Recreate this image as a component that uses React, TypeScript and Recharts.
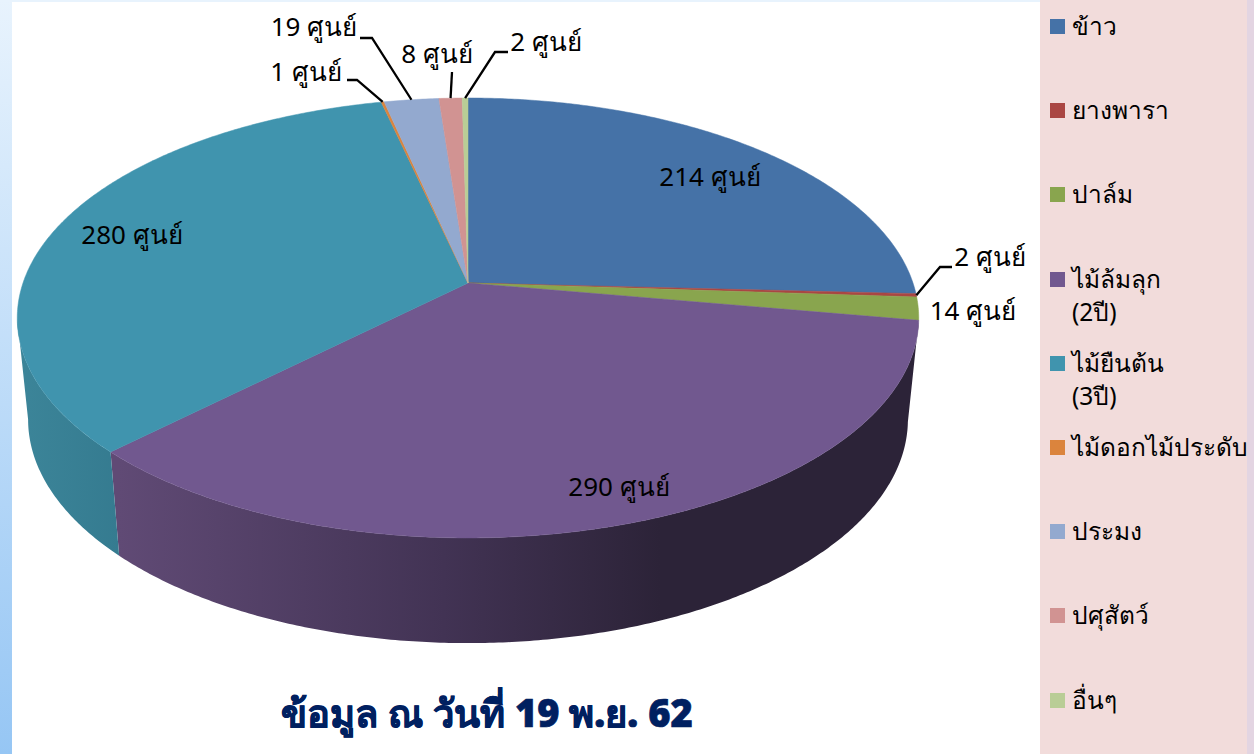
import React from 'react';
import { PieChart, Pie, Legend } from 'recharts';

const CATEGORIES = ['ข้าว', 'ยางพารา', 'ปาล์ม', 'ไม้ล้มลุก (2ปี)', 'ไม้ยืนต้น (3ปี)', 'ไม้ดอกไม้ประดับ', 'ประมง', 'ปศุสัตว์', 'อื่นๆ'];
const CENTERS = [214, 2, 14, 290, 280, 1, 19, 8, 2];
const COLORS = ['#4572A7', '#AA4643', '#89A54E', '#71588F', '#4094AE', '#DB843D', '#93A9CF', '#D19392', '#B9CD96'];
const UNIT = 'ศูนย์';
const TITLE = 'ข้อมูล ณ วันที่ 19 พ.ย. 62';

const tableData = CATEGORIES.map((name, i) => ({ name, value: CENTERS[i], fill: COLORS[i] }));

// perspective of the tilted disc: top face and bottom face of the 3D pie
const TILT = 0.159;
const TOP_FACE = { a: 445, b: 214.4, dy: 0 };
const LOW_FACE = { a: 434.3, b: 217.9, dy: 101 };
const SILHOUETTE = (Math.acos(-TILT) * 180) / Math.PI;

const project = (cx: number, cy: number, theta: number, face: typeof TOP_FACE) => {
  const r = (theta * Math.PI) / 180;
  const u = Math.sin(r);
  const v = -Math.cos(r);
  const d = 1 - TILT * v;
  return [cx + (face.a * u) / d, cy + face.dy + (face.b * v) / d];
};

const arc = (cx: number, cy: number, from: number, to: number, face: typeof TOP_FACE) => {
  const steps = Math.max(2, Math.ceil(Math.abs(to - from) * 2));
  const pts: number[][] = [];
  for (let i = 0; i <= steps; i++) pts.push(project(cx, cy, from + ((to - from) * i) / steps, face));
  return pts;
};

const toPath = (pts: number[][]) => 'M' + pts.map((p) => `${p[0].toFixed(2)},${p[1].toFixed(2)}`).join('L') + 'Z';

const wallFill = (fill: string) => {
  if (fill === COLORS[3]) return 'url(#wallPurple)';
  if (fill === COLORS[4]) return 'url(#wallTeal)';
  return fill;
};

const Slice3D = (props: any) => {
  const { cx, cy, startAngle, endAngle, fill } = props;
  const from = 90 - startAngle;
  const to = 90 - endAngle;
  const wallFrom = Math.max(from, SILHOUETTE);
  const wallTo = Math.min(to, 360 - SILHOUETTE);
  const top = [[cx, cy], ...arc(cx, cy, from, to, TOP_FACE)];
  return (
    <g>
      {wallTo - wallFrom > 1 && (
        <path
          d={toPath([...arc(cx, cy, wallFrom, wallTo, TOP_FACE), ...arc(cx, cy, wallTo, wallFrom, LOW_FACE)])}
          fill={wallFill(fill)}
        />
      )}
      <path d={toPath(top)} fill={fill} stroke={fill} strokeWidth={0.5} />
    </g>
  );
};

// where each value label sits, and the bends of its leader line if it has one
const LABEL_LAYOUT: { x: number; y: number; bends?: number[][] }[] = [
  { x: 710, y: 176 },
  { x: 990, y: 256, bends: [[952, 267], [940, 267]] },
  { x: 973, y: 310 },
  { x: 619, y: 486 },
  { x: 132, y: 234 },
  { x: 306, y: 71, bends: [[347, 80], [357, 80]] },
  { x: 314, y: 26, bends: [[360, 38], [372, 38]] },
  { x: 437, y: 53, bends: [[452, 72]] },
  { x: 546, y: 41, bends: [[508, 52], [495, 52]] },
];

const renderLabel = (props: any) => {
  const { cx, cy, midAngle, index, value } = props;
  const layout = LABEL_LAYOUT[index];
  const end = project(cx, cy, 90 - midAngle, TOP_FACE);
  return (
    <g key={index}>
      {layout.bends && (
        <polyline
          points={[...layout.bends, end].map((p) => p.join(',')).join(' ')}
          fill="none"
          stroke="#000"
          strokeWidth={2.3}
        />
      )}
      <text x={layout.x} y={layout.y} textAnchor="middle" dominantBaseline="central" fontSize={26} fill="#000" fontFamily="Tahoma, 'Noto Sans', sans-serif">
        {`${value} ${UNIT}`}
      </text>
    </g>
  );
};

const renderLegend = ({ payload }: any) => (
  <div style={{ width: 214, height: 754, boxSizing: 'border-box', background: '#F2DCDB', borderRight: '7px solid #E3D5E2', overflow: 'hidden', paddingTop: 9, fontFamily: "Tahoma, 'Noto Sans', sans-serif" }}>
    {(payload || []).map((entry: any) => (
      <div key={entry.value} style={{ height: 84.2, display: 'flex', alignItems: 'flex-start', paddingLeft: 10 }}>
        <span style={{ width: 15, height: 15, marginTop: 10, marginRight: 7, flex: 'none', background: entry.color }} />
        <span style={{ fontSize: 24.5, lineHeight: '33px', color: '#000', whiteSpace: 'nowrap' }}>
          {String(entry.value).split(' ').map((part) => (
            <div key={part}>{part}</div>
          ))}
        </span>
      </div>
    ))}
  </div>
);

export default function App() {
  return (
    <div style={{ position: 'absolute', left: 0, top: 0, width: 1254, height: 754, background: '#fff', overflow: 'hidden' }}>
      <div style={{ position: 'absolute', left: 0, top: 0, width: 12, height: 754, background: 'linear-gradient(#E8F3FD, #96C6F4)' }} />
      <div style={{ position: 'absolute', left: 0, top: 0, width: 1254, height: 2, background: '#E8F3FD' }} />
      <PieChart width={1254} height={754} margin={{ top: 0, right: 0, bottom: 0, left: 0 }}>
        <defs>
          <linearGradient id="wallPurple" gradientUnits="userSpaceOnUse" x1={119} y1={0} x2={660} y2={0}>
            <stop offset="0" stopColor="#604A75" />
            <stop offset="0.6" stopColor="#423354" />
            <stop offset="1" stopColor="#2C2338" />
          </linearGradient>
          <linearGradient id="wallTeal" gradientUnits="userSpaceOnUse" x1={17} y1={0} x2={119} y2={0}>
            <stop offset="0" stopColor="#3C8599" />
            <stop offset="1" stopColor="#357B90" />
          </linearGradient>
        </defs>
        <Legend
          layout="vertical"
          align="right"
          verticalAlign="top"
          content={renderLegend}
          itemSorter={null}
          wrapperStyle={{ left: 1040, top: 0, width: 214, height: 754 }}
        />
        <Pie
          data={tableData}
          dataKey="value"
          nameKey="name"
          cx={468}
          cy={283}
          outerRadius={185}
          startAngle={90}
          endAngle={-270}
          stroke="none"
          shape={Slice3D}
          inactiveShape={Slice3D}
          label={renderLabel}
          labelLine={false}
          isAnimationActive={false}
        />
      </PieChart>
      <div style={{ position: 'absolute', left: 187, width: 600, top: 683, textAlign: 'center', fontSize: 38, fontWeight: 900, color: '#002060', WebkitTextStroke: '0.7px #002060', fontFamily: "Tahoma, 'Noto Sans', sans-serif" }}>
        {TITLE}
      </div>
    </div>
  );
}
